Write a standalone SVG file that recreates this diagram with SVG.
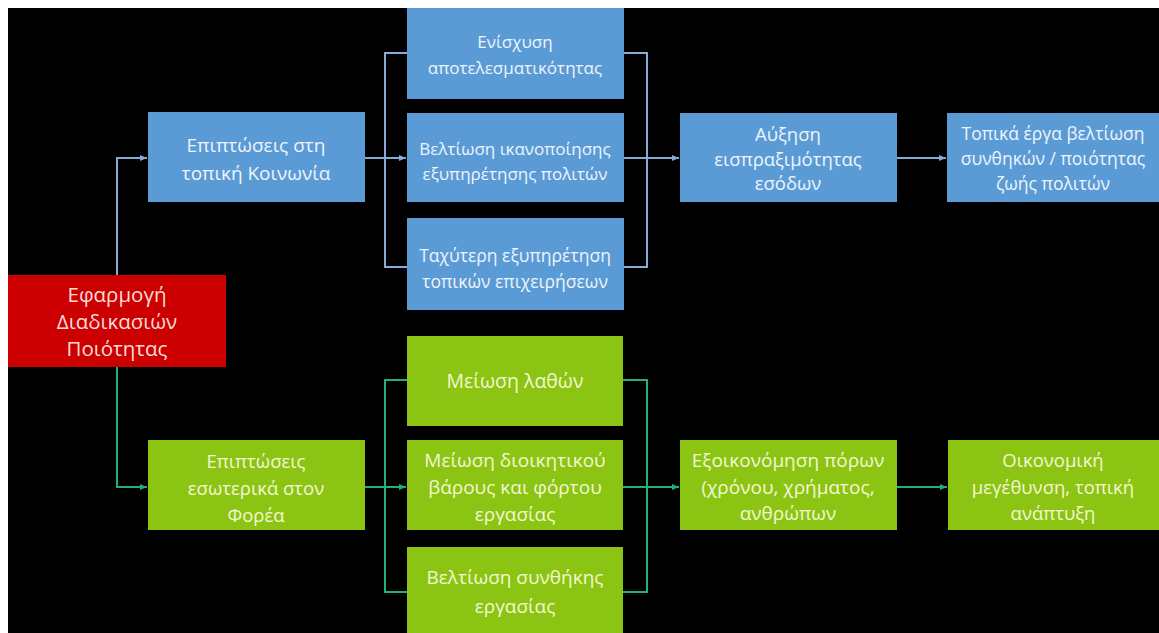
<svg xmlns="http://www.w3.org/2000/svg" width="1159" height="633" viewBox="0 0 1159 633">
  <defs>
    <style>
      .lbl { font-family: "Open Sans", "Liberation Sans", sans-serif; font-size: 17px; text-anchor: middle; }
      .blue rect { fill: #5b9bd5; }
      .blue text { fill: #eef4fc; }
      .green rect { fill: #8cc414; }
      .green text { fill: #f2f8d2; }
      .red rect { fill: #cc0000; }
      .red text { fill: #f9dcd6; }
      .ln { fill: none; stroke-width: 2; }
      .lb { stroke: #86abd9; }
      .lg { stroke: #22b074; }
    </style>
    <marker id="ab" markerUnits="userSpaceOnUse" markerWidth="8" markerHeight="8" refX="7" refY="4" orient="auto">
      <path d="M0,1 L7,4 L0,7 Z" fill="#86abd9"/>
    </marker>
    <marker id="ag" markerUnits="userSpaceOnUse" markerWidth="8" markerHeight="8" refX="7" refY="4" orient="auto">
      <path d="M0,1 L7,4 L0,7 Z" fill="#22b074"/>
    </marker>
  </defs>

  <!-- page and dark slide area -->
  <rect width="1159" height="633" fill="#ffffff"/>
  <rect x="8" y="8" width="1151" height="625" fill="#000000"/>

  <!-- connectors -->
  <g id="connectors">
    <path class="ln lb" d="M117,275 V158 H147" marker-end="url(#ab)"/>
    <path class="ln lb" d="M365,158 H406" marker-end="url(#ab)"/>
    <path class="ln lb" d="M407,53 H385 V267 H407"/>
    <path class="ln lb" d="M624,53 H647 V267 H624"/>
    <path class="ln lb" d="M624,158 H679" marker-end="url(#ab)"/>
    <path class="ln lb" d="M897,158 H946" marker-end="url(#ab)"/>

    <path class="ln lg" d="M117,367 V487 H147" marker-end="url(#ag)"/>
    <path class="ln lg" d="M365,487 H406" marker-end="url(#ag)"/>
    <path class="ln lg" d="M407,380 H385 V592 H407"/>
    <path class="ln lg" d="M623,380 H647 V592 H623"/>
    <path class="ln lg" d="M623,487 H679" marker-end="url(#ag)"/>
    <path class="ln lg" d="M897,487 H947" marker-end="url(#ag)"/>
  </g>

  <!-- root -->
  <g id="n-root" class="red" font-size="20.5">
    <rect x="8" y="275" width="218" height="92"/>
    <text class="lbl" x="117" y="302" style="font-size:20.5px">Εφαρμογή</text>
    <text class="lbl" x="117" y="329" style="font-size:20.5px">Διαδικασιών</text>
    <text class="lbl" x="117" y="356" style="font-size:20.5px">Ποιότητας</text>
  </g>

  <!-- upper branch -->
  <g id="n-society" class="blue">
    <rect x="148" y="112" width="217" height="90"/>
    <text class="lbl" x="256" y="152" style="font-size:19px">Επιπτώσεις στη</text>
    <text class="lbl" x="256" y="180" style="font-size:19px">τοπική Κοινωνία</text>
  </g>
  <g id="n-effectiveness" class="blue">
    <rect x="407" y="8" width="217" height="91"/>
    <text class="lbl" x="515" y="48">Ενίσχυση</text>
    <text class="lbl" x="515" y="74">αποτελεσματικότητας</text>
  </g>
  <g id="n-satisfaction" class="blue">
    <rect x="407" y="113" width="217" height="89"/>
    <text class="lbl" x="515" y="155">Βελτίωση ικανοποίησης</text>
    <text class="lbl" x="515" y="180">εξυπηρέτησης πολιτών</text>
  </g>
  <g id="n-business" class="blue">
    <rect x="407" y="218" width="217" height="92"/>
    <text class="lbl" x="515" y="262" style="font-size:17.5px">Ταχύτερη εξυπηρέτηση</text>
    <text class="lbl" x="515" y="288" style="font-size:17.5px">τοπικών επιχειρήσεων</text>
  </g>
  <g id="n-revenue" class="blue">
    <rect x="680" y="113" width="217" height="89"/>
    <text class="lbl" x="788" y="141" style="font-size:18.5px">Αύξηση</text>
    <text class="lbl" x="788" y="166" style="font-size:18.5px">εισπραξιμότητας</text>
    <text class="lbl" x="788" y="190" style="font-size:18.5px">εσόδων</text>
  </g>
  <g id="n-projects" class="blue">
    <rect x="947" y="113" width="212" height="89"/>
    <text class="lbl" x="1053" y="140" style="font-size:17.5px">Τοπικά έργα βελτίωση</text>
    <text class="lbl" x="1053" y="165" style="font-size:17.5px">συνθηκών / ποιότητας</text>
    <text class="lbl" x="1053" y="190" style="font-size:17.5px">ζωής πολιτών</text>
  </g>

  <!-- lower branch -->
  <g id="n-internal" class="green">
    <rect x="148" y="440" width="217" height="90"/>
    <text class="lbl" x="256" y="468" style="font-size:18.5px">Επιπτώσεις</text>
    <text class="lbl" x="256" y="495" style="font-size:18.5px">εσωτερικά στον</text>
    <text class="lbl" x="256" y="522" style="font-size:18.5px">Φορέα</text>
  </g>
  <g id="n-errors" class="green">
    <rect x="407" y="336" width="216" height="90"/>
    <text class="lbl" x="515" y="388" style="font-size:19.5px">Μείωση λαθών</text>
  </g>
  <g id="n-workload" class="green">
    <rect x="407" y="440" width="216" height="90"/>
    <text class="lbl" x="515" y="467" style="font-size:19px">Μείωση διοικητικού</text>
    <text class="lbl" x="515" y="494" style="font-size:19px">βάρους και φόρτου</text>
    <text class="lbl" x="515" y="521" style="font-size:19px">εργασίας</text>
  </g>
  <g id="n-conditions" class="green">
    <rect x="407" y="547" width="216" height="86"/>
    <text class="lbl" x="515" y="584" style="font-size:19px">Βελτίωση συνθήκης</text>
    <text class="lbl" x="515" y="613" style="font-size:19px">εργασίας</text>
  </g>
  <g id="n-savings" class="green">
    <rect x="680" y="440" width="217" height="90"/>
    <text class="lbl" x="788" y="467" style="font-size:19px">Εξοικονόμηση πόρων</text>
    <text class="lbl" x="788" y="494" style="font-size:19px">(χρόνου, χρήματος,</text>
    <text class="lbl" x="788" y="520" style="font-size:19px">ανθρώπων</text>
  </g>
  <g id="n-growth" class="green">
    <rect x="948" y="440" width="211" height="90"/>
    <text class="lbl" x="1053" y="467" style="font-size:18.5px">Οικονομική</text>
    <text class="lbl" x="1053" y="494" style="font-size:18.5px">μεγέθυνση, τοπική</text>
    <text class="lbl" x="1053" y="520" style="font-size:18.5px">ανάπτυξη</text>
  </g>
</svg>
